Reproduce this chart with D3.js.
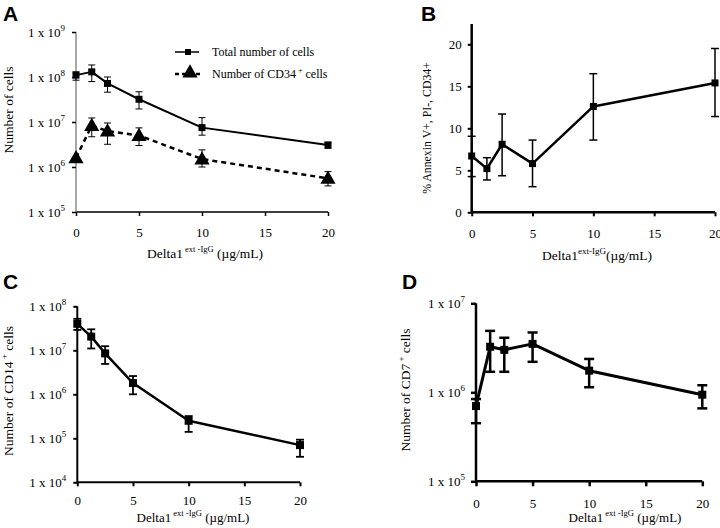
<!DOCTYPE html>
<html><head><meta charset="utf-8">
<script src="https://cdn.jsdelivr.net/npm/d3@7"></script>
<style>body{margin:0;background:#fff}svg{display:block}</style>
</head><body><svg id="c" width="720" height="528"></svg>
<script>
// ---- data ----
const doses = [0, 1.25, 2.5, 5, 10, 20];
const xTicks = [0, 5, 10, 15, 20];

const aTotal   = [1.1e8, 1.3e8, 7.2e7, 3.2e7, 7.5e6, 3.1e6];
const aTotalHi = [1.3e8, 1.85e8, 1.0e8, 4.7e7, 1.25e7, 3.5e6];
const aTotalLo = [8.5e7, 7.9e7, 4.6e7, 1.95e7, 5.1e6, 2.6e6];
const aCD34    = [1.6e6, 8.3e6, 6.3e6, 5.0e6, 1.5e6, 5.6e5];
const aCD34Hi  = [1.6e6, 1.23e7, 9.5e6, 7.4e6, 2.4e6, 7.9e5];
const aCD34Lo  = [1.6e6, 4.7e6, 3.2e6, 3.0e6, 1.0e6, 3.8e5];
const aYTicks  = [1e5, 1e6, 1e7, 1e8, 1e9];
const aLegend  = ["Total number of cells", "Number of CD34"];

const bVal = [6.7, 5.2, 8.1, 5.8, 12.6, 15.4];
const bHi  = [9.05, 6.5, 11.7, 8.6, 16.5, 19.5];
const bLo  = [4.25, 3.85, 4.35, 3.05, 8.6, 11.4];
const bYTicks = [0, 5, 10, 15, 20];

const cVal = [4.0e7, 2.05e7, 8.5e6, 1.8e6, 2.5e5, 7.0e4];
const cHi  = [5.2e7, 3.0e7, 1.24e7, 2.6e6, 3.2e5, 9.3e4];
const cLo  = [2.9e7, 1.1e7, 4.9e6, 1.0e6, 1.4e5, 3.8e4];
const cYTicks = [1e4, 1e5, 1e6, 1e7, 1e8];

const dVal = [7.0e5, 3.25e6, 3.0e6, 3.5e6, 1.75e6, 9.4e5];
const dHi  = [8.4e5, 4.9e6, 4.1e6, 4.7e6, 2.37e6, 1.2e6];
const dLo  = [4.5e5, 1.7e6, 1.7e6, 2.2e6, 1.14e6, 6.6e5];
const dYTicks = [1e5, 1e6, 1e7];

// ---- drawing ----
const svg = d3.select("#c");
const SERIF = "'Liberation Serif','Times New Roman',serif";
const SANS = "'Liberation Sans',Arial,sans-serif";

function panelLetter(t, x, y) {
  svg.append("text").attr("x", x).attr("y", y).text(t)
    .attr("font-family", SANS).attr("font-weight", "bold").attr("font-size", 21).attr("fill", "#000");
}

function logLabel(sel) {
  sel.each(function(d) {
    const t = d3.select(this);
    const e = Math.round(Math.log10(d));
    t.text(null);
    t.append("tspan").text("1 x 10");
    t.append("tspan").text(e).attr("font-size", 9).attr("dy", -6);
  });
}

function axes(g, x, y, opt) {
  const xa = g.append("g").attr("transform", `translate(0,${y.range()[0]})`)
    .call(d3.axisBottom(x).tickValues(xTicks).tickSize(opt.tickLen).tickPadding(opt.xPad).tickSizeOuter(0));
  xa.select(".domain").attr("stroke", "#000").attr("stroke-width", opt.axW)
    .attr("d", `M${x.range()[0]},0H${x.range()[1]}`);
  xa.selectAll(".tick line").attr("stroke-width", opt.tickW);
  xa.selectAll("text").attr("font-family", SERIF).attr("font-size", 13).attr("fill", "#000");

  const ya = g.append("g").attr("transform", `translate(${x.range()[0]},0)`)
    .call(d3.axisLeft(y).tickValues(opt.yTicks).tickSize(opt.tickLen).tickPadding(opt.yPad).tickSizeOuter(0));
  ya.select(".domain").attr("stroke", opt.yAxisColor || "#000").attr("stroke-width", opt.axW)
    .attr("d", `M0,${y.range()[0]}V${opt.yTop !== undefined ? opt.yTop : y.range()[1]}`);
  ya.selectAll(".tick line").attr("stroke-width", opt.tickW);
  ya.selectAll("text").attr("font-family", SERIF).attr("font-size", 13).attr("fill", "#000");
  if (opt.log) ya.selectAll(".tick text").call(logLabel);
}

function errBars(g, x, y, vals, lo, hi, w, cap) {
  const eb = g.append("g").attr("stroke", "#000").attr("stroke-width", w).attr("fill", "none");
  doses.forEach((d, i) => {
    const px = x(d), y1 = y(hi[i]), y2 = y(lo[i]);
    eb.append("line").attr("x1", px).attr("x2", px).attr("y1", y1).attr("y2", y2);
    eb.append("line").attr("x1", px - cap).attr("x2", px + cap).attr("y1", y1).attr("y2", y1);
    eb.append("line").attr("x1", px - cap).attr("x2", px + cap).attr("y1", y2).attr("y2", y2);
  });
}

function series(g, x, y, vals, lw, dash) {
  const line = d3.line().x((d, i) => x(doses[i])).y(d => y(d));
  g.append("path").datum(vals).attr("d", line).attr("fill", "none")
    .attr("stroke", "#000").attr("stroke-width", lw)
    .attr("stroke-dasharray", dash || null).attr("stroke-linejoin", "round");
}

function squares(g, x, y, vals, s) {
  g.selectAll(null).data(vals).enter().append("rect")
    .attr("x", (d, i) => x(doses[i]) - s / 2).attr("y", d => y(d) - s / 2)
    .attr("width", s).attr("height", s).attr("fill", "#000");
}

function triangles(g, x, y, vals, s) {
  const sym = d3.symbol().type(d3.symbolTriangle).size(s);
  g.selectAll(null).data(vals).enter().append("path")
    .attr("d", sym).attr("transform", (d, i) => `translate(${x(doses[i])},${y(d) + 1})`).attr("fill", "#000");
}

function xLabel(cx, by, size) {
  const t = svg.append("text").attr("x", cx).attr("y", by).attr("text-anchor", "middle")
    .attr("font-family", SERIF).attr("font-size", size).attr("fill", "#000");
  t.append("tspan").text("Delta1");
  t.append("tspan").text(" ext -IgG").attr("font-size", 8.5).attr("dy", -6);
  t.append("tspan").text(" (µg/mL)").attr("font-size", size).attr("dy", 6);
}

function yLabel(cx, cy, parts, size) {
  const t = svg.append("text").attr("transform", `translate(${cx},${cy}) rotate(-90)`)
    .attr("text-anchor", "middle").attr("font-family", SERIF).attr("font-size", size).attr("fill", "#000");
  parts.forEach(p => {
    const s = t.append("tspan").text(p.t);
    if (p.sup) s.attr("font-size", 9).attr("dy", -6);
    if (p.after) s.attr("dy", 6);
  });
}

// Panel A
{
  const g = svg.append("g");
  const x = d3.scaleLinear().domain([0, 20]).range([76, 328]);
  const y = d3.scaleLog().domain([1e5, 1e9]).range([212, 32]);
  axes(g, x, y, {yTicks: aYTicks, log: true, axW: 1.5, tickW: 1.5, tickLen: 4, xPad: 12, yPad: 7, yAxisColor: "#8a8a8a"});
  series(g, x, y, aTotal, 2);
  series(g, x, y, aCD34, 2.5, "5,4");
  errBars(g, x, y, aTotal, aTotalLo, aTotalHi, 1, 3.5);
  errBars(g, x, y, aCD34, aCD34Lo, aCD34Hi, 1, 3.5);
  squares(g, x, y, aTotal, 7);
  triangles(g, x, y, aCD34, 100);
  // legend
  const lg = svg.append("g");
  lg.append("line").attr("x1", 175).attr("x2", 199).attr("y1", 52).attr("y2", 52).attr("stroke", "#000").attr("stroke-width", 1.5);
  lg.append("rect").attr("x", 185).attr("y", 49).attr("width", 6).attr("height", 6).attr("fill", "#000");
  lg.append("line").attr("x1", 175).attr("x2", 201).attr("y1", 74).attr("y2", 74).attr("stroke", "#000").attr("stroke-width", 2.5).attr("stroke-dasharray", "4,3");
  lg.append("path").attr("d", d3.symbol().type(d3.symbolTriangle).size(100)).attr("transform", "translate(190,73)").attr("fill", "#000");
  lg.append("text").attr("x", 212).attr("y", 56).text(aLegend[0])
    .attr("font-family", SERIF).attr("font-size", 12).attr("fill", "#000");
  const t2 = lg.append("text").attr("x", 212).attr("y", 78)
    .attr("font-family", SERIF).attr("font-size", 12).attr("fill", "#000");
  t2.append("tspan").text(aLegend[1]);
  t2.append("tspan").text("    +").attr("font-size", 8).attr("dy", -5);
  t2.append("tspan").text(" cells").attr("dy", 5);
  xLabel(205, 258, 13.5);
  yLabel(13, 110, [{t: "Number of cells"}], 13.5);
  panelLetter("A", 3, 21);
}

// Panel B
{
  const g = svg.append("g");
  const x = d3.scaleLinear().domain([0, 20]).range([471.7, 715]);
  const y = d3.scaleLinear().domain([0, 20]).range([212.3, 44.3]);
  axes(g, x, y, {yTicks: bYTicks, log: false, axW: 2.5, tickW: 2, tickLen: 4, xPad: 12, yPad: 6, yTop: 24});
  series(g, x, y, bVal, 2.5);
  errBars(g, x, y, bVal, bLo, bHi, 1.5, 4);
  squares(g, x, y, bVal, 7);
  const t = svg.append("text").attr("x", 597).attr("y", 260).attr("text-anchor", "middle")
    .attr("font-family", SERIF).attr("font-size", 13.5).attr("fill", "#000");
  t.append("tspan").text("Delta1");
  t.append("tspan").text("ext-IgG").attr("font-size", 9).attr("dy", -6);
  t.append("tspan").text("(µg/mL)").attr("dy", 6);
  yLabel(431, 128, [{t: "% Annexin V+, PI-, CD34+"}], 11.8);
  panelLetter("B", 421, 21);
}

// Panel C
{
  const g = svg.append("g");
  const x = d3.scaleLinear().domain([0, 20]).range([77.3, 300]);
  const y = d3.scaleLog().domain([1e4, 1e8]).range([482.3, 306.3]);
  axes(g, x, y, {yTicks: cYTicks, log: true, axW: 2, tickW: 2, tickLen: 4, xPad: 9, yPad: 7});
  series(g, x, y, cVal, 2.5);
  errBars(g, x, y, cVal, cLo, cHi, 1.8, 4);
  squares(g, x, y, cVal, 8);
  xLabel(193, 522, 13);
  yLabel(13, 391, [{t: "Number of CD14"}, {t: " +", sup: true}, {t: " cells", after: true}], 13.5);
  panelLetter("C", 3, 289);
}

// Panel D
{
  const g = svg.append("g");
  const x = d3.scaleLinear().domain([0, 20]).range([476, 702.3]);
  const y = d3.scaleLog().domain([1e5, 1e7]).range([481.3, 303.3]);
  axes(g, x, y, {yTicks: dYTicks, log: true, axW: 2.5, tickW: 2.5, tickLen: 5, xPad: 12, yPad: 6});
  series(g, x, y, dVal, 3);
  errBars(g, x, y, dVal, dLo, dHi, 2.5, 5);
  squares(g, x, y, dVal, 8);
  xLabel(625, 522, 13);
  yLabel(410, 390, [{t: "Number of CD7"}, {t: " +", sup: true}, {t: " cells", after: true}], 13.5);
  panelLetter("D", 402, 289);
}
</script></body></html>
